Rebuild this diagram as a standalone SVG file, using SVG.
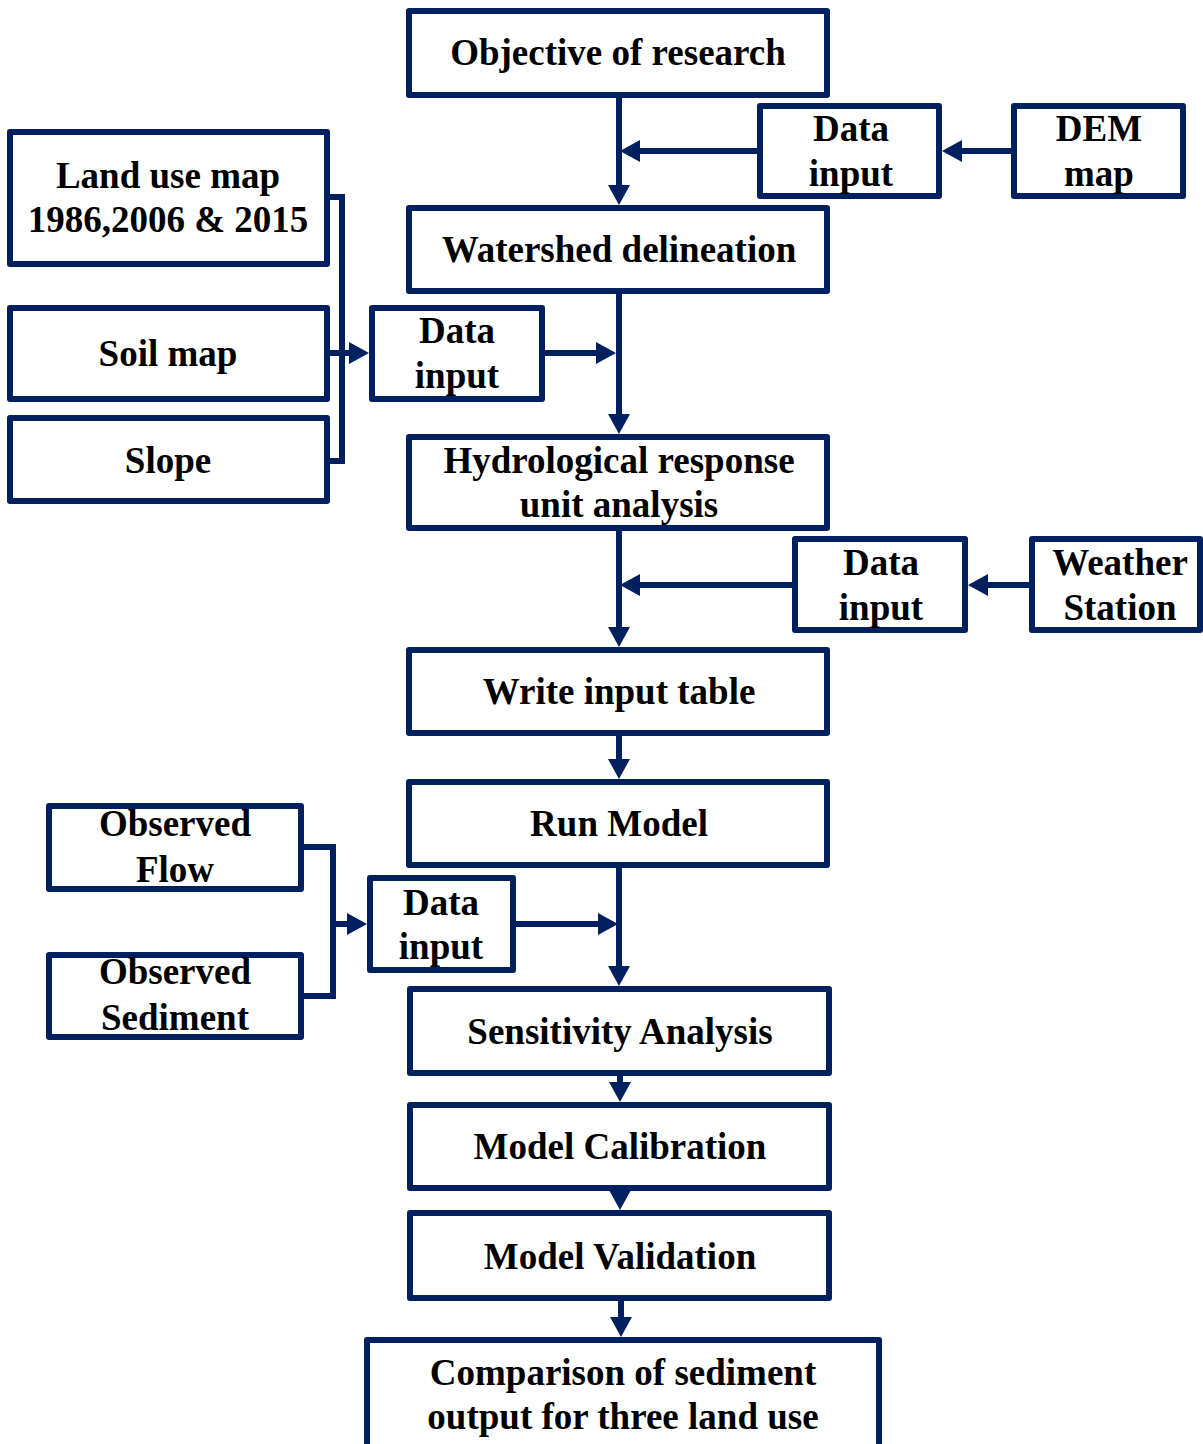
<svg xmlns="http://www.w3.org/2000/svg" width="1203" height="1444" viewBox="0 0 1203 1444">
<defs>
<style>
.box{fill:#fff;stroke:#002060;stroke-width:6;stroke-linejoin:round}
.t{font-family:"Liberation Serif","Times New Roman",serif;font-weight:bold;font-size:37px;fill:#000;text-anchor:middle}
.c{fill:none;stroke:#002060;stroke-width:6;stroke-linejoin:miter}
.a{marker-end:url(#ah)}
</style>
<marker id="ah" markerUnits="userSpaceOnUse" viewBox="0 0 20 22" refX="10" refY="11" markerWidth="20" markerHeight="22" orient="auto">
<path d="M0,0 L20,11 L0,22 z" fill="#002060"/>
</marker>
</defs>
<rect width="1203" height="1444" fill="#fff"/>

<g id="connectors">
<path class="c a" d="M619,98 V195"/>
<path class="c a" d="M757,151 H630"/>
<path class="c a" d="M1011,151 H952"/>
<path class="c" d="M330,197 H342 V461 H330"/>
<path class="c a" d="M330,353 H359"/>
<path class="c a" d="M545,353 H606"/>
<path class="c a" d="M619,294 V424"/>
<path class="c a" d="M792,585 H630"/>
<path class="c a" d="M1029,585 H978"/>
<path class="c a" d="M619,531 V637"/>
<path class="c a" d="M619,736 V769"/>
<path class="c a" d="M619,868 V976"/>
<path class="c" d="M304,847 H333 V996 H304"/>
<path class="c a" d="M333,924 H357"/>
<path class="c a" d="M516,924 H608"/>
<path class="c a" d="M620,1076 V1092"/>
<path class="c a" d="M620,1191 V1200"/>
<path class="c a" d="M621,1301 V1327"/>
</g>

<g id="objective"><rect class="box" x="409" y="11" width="418" height="84"/><text class="t" x="618" y="65">Objective of research</text></g>
<g id="data-input-1"><rect class="box" x="760" y="106" width="179" height="90"/><text class="t" x="851" y="141">Data</text><text class="t" x="851" y="186">input</text></g>
<g id="dem-map"><rect class="box" x="1014" y="106" width="169" height="90"/><text class="t" x="1099" y="141">DEM</text><text class="t" x="1099" y="186">map</text></g>
<g id="watershed"><rect class="box" x="409" y="208" width="418" height="83"/><text class="t" x="619" y="262">Watershed delineation</text></g>
<g id="land-use"><rect class="box" x="10" y="132" width="317" height="132"/><text class="t" x="168" y="188">Land use map</text><text class="t" x="168" y="232">1986,2006 &amp; 2015</text></g>
<g id="soil-map"><rect class="box" x="10" y="308" width="317" height="91"/><text class="t" x="168" y="366">Soil map</text></g>
<g id="slope"><rect class="box" x="10" y="418" width="317" height="83"/><text class="t" x="168" y="473">Slope</text></g>
<g id="data-input-2"><rect class="box" x="372" y="308" width="170" height="91"/><text class="t" x="457" y="343">Data</text><text class="t" x="457" y="388">input</text></g>
<g id="hru"><rect class="box" x="409" y="437" width="418" height="91"/><text class="t" x="619" y="473">Hydrological response</text><text class="t" x="619" y="517">unit analysis</text></g>
<g id="data-input-3"><rect class="box" x="795" y="539" width="170" height="91"/><text class="t" x="881" y="575">Data</text><text class="t" x="881" y="620">input</text></g>
<g id="weather"><rect class="box" x="1032" y="539" width="168" height="91"/><text class="t" x="1120" y="575">Weather</text><text class="t" x="1120" y="620">Station</text></g>
<g id="write-input"><rect class="box" x="409" y="650" width="418" height="83"/><text class="t" x="619" y="704">Write input table</text></g>
<g id="run-model"><rect class="box" x="409" y="782" width="418" height="83"/><text class="t" x="619" y="836">Run Model</text></g>
<g id="observed-flow"><rect class="box" x="49" y="806" width="252" height="83"/><text class="t" x="175" y="836">Observed</text><text class="t" x="175" y="882">Flow</text></g>
<g id="observed-sediment"><rect class="box" x="49" y="955" width="252" height="82"/><text class="t" x="175" y="984">Observed</text><text class="t" x="175" y="1030">Sediment</text></g>
<g id="data-input-4"><rect class="box" x="370" y="878" width="143" height="92"/><text class="t" x="441" y="915">Data</text><text class="t" x="441" y="959">input</text></g>
<g id="sensitivity"><rect class="box" x="410" y="989" width="419" height="84"/><text class="t" x="620" y="1044">Sensitivity Analysis</text></g>
<g id="calibration"><rect class="box" x="410" y="1105" width="419" height="83"/><text class="t" x="620" y="1159">Model Calibration</text></g>
<g id="validation"><rect class="box" x="410" y="1213" width="419" height="85"/><text class="t" x="620" y="1269">Model Validation</text></g>
<g id="comparison"><rect class="box" x="367" y="1340" width="512" height="110"/><text class="t" x="623" y="1385">Comparison of sediment</text><text class="t" x="623" y="1429">output for three land use</text></g>
</svg>
